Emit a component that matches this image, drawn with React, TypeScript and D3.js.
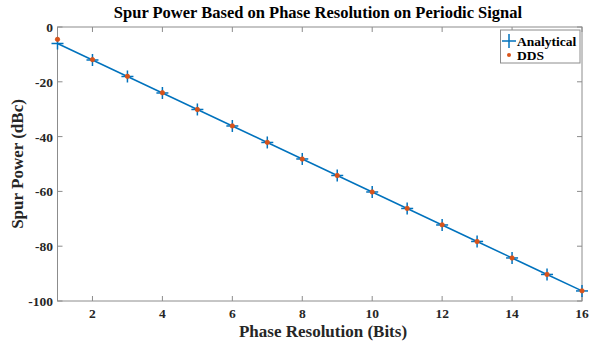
import React from "react";
import * as d3 from "d3";

const bits = [1, 2, 3, 4, 5, 6, 7, 8, 9, 10, 11, 12, 13, 14, 15, 16];
const analytical = [-6.02, -12.04, -18.06, -24.08, -30.1, -36.12, -42.14, -48.16, -54.19, -60.21, -66.23, -72.25, -78.27, -84.29, -90.31, -96.33];
const dds = [-4.5, -11.9, -18.0, -24.0, -30.1, -36.1, -42.1, -48.2, -54.2, -60.2, -66.2, -72.2, -78.3, -84.3, -90.3, -96.3];
const xTicks = [2, 4, 6, 8, 10, 12, 14, 16];
const yTicks = [0, -20, -40, -60, -80, -100];

const W = 589, H = 345;
const L = 57.5, R = 582, T = 27, B = 301;
const BLUE = "#0072BD", ORANGE = "#D95319";
const FONT = "Liberation Serif, Times New Roman, serif";

export default function App() {
  const x = d3.scaleLinear().domain([1, 16]).range([L, R]);
  const y = d3.scaleLinear().domain([-100, 0]).range([B, T]);
  const line = d3.line<number>().x((_, i) => x(bits[i])).y((d) => y(d));
  return (
    <svg width={W} height={H} style={{ position: "absolute", left: 0, top: 0 }}>
      <rect x={0} y={0} width={W} height={H} fill="#fff" />
      <rect x={L} y={T} width={R - L} height={B - T} fill="#fff" stroke="#8c8c8c" strokeWidth={1} />
      {xTicks.map((t) => (
        <g key={"x" + t}>
          <line x1={x(t)} x2={x(t)} y1={B} y2={B - 5} stroke="#8c8c8c" />
          <line x1={x(t)} x2={x(t)} y1={T} y2={T + 5} stroke="#8c8c8c" />
          <text x={x(t)} y={318} textAnchor="middle" fontFamily={FONT} fontWeight="bold" fontSize={13.5} fill="#262626">{t}</text>
        </g>
      ))}
      {yTicks.map((t) => (
        <g key={"y" + t}>
          <line x1={L} x2={L + 5} y1={y(t)} y2={y(t)} stroke="#8c8c8c" />
          <line x1={R} x2={R - 5} y1={y(t)} y2={y(t)} stroke="#8c8c8c" />
          <text x={53} y={y(t) + 5} textAnchor="end" fontFamily={FONT} fontWeight="bold" fontSize={13.5} fill="#262626">{t}</text>
        </g>
      ))}
      <path d={line(analytical) || ""} fill="none" stroke={BLUE} strokeWidth={1.5} />
      {analytical.map((v, i) => (
        <g key={"a" + i} stroke={BLUE} strokeWidth={1.5}>
          <line x1={x(bits[i]) - 6} x2={x(bits[i]) + 6} y1={y(v)} y2={y(v)} />
          <line x1={x(bits[i])} x2={x(bits[i])} y1={y(v) - 6} y2={y(v) + 6} />
        </g>
      ))}
      {dds.map((v, i) => (
        <circle key={"d" + i} cx={x(bits[i])} cy={y(v)} r={2.2} fill={ORANGE} stroke={ORANGE} strokeWidth={0.8} />
      ))}
      <text x={318} y={18} textAnchor="middle" fontFamily={FONT} fontWeight="bold" fontSize={16.5} fill="#000">Spur Power Based on Phase Resolution on Periodic Signal</text>
      <text x={323} y={336.5} textAnchor="middle" fontFamily={FONT} fontWeight="bold" fontSize={17} fill="#262626">Phase Resolution (Bits)</text>
      <text transform={`translate(23,${(T + B) / 2}) rotate(-90)`} textAnchor="middle" fontFamily={FONT} fontWeight="bold" fontSize={17} fill="#262626">Spur Power (dBc)</text>
      <g>
        <rect x={500.5} y={30} width={79.5} height={33} fill="#fff" stroke="#8c8c8c" strokeWidth={1} />
        <line x1={502} x2={516} y1={41} y2={41} stroke={BLUE} strokeWidth={1.5} />
        <line x1={509} x2={509} y1={34} y2={48} stroke={BLUE} strokeWidth={1.5} />
        <text x={517} y={45.5} fontFamily={FONT} fontWeight="bold" fontSize={13.5} fill="#000">Analytical</text>
        <circle cx={509} cy={55} r={2} fill={ORANGE} />
        <text x={517} y={59.5} fontFamily={FONT} fontWeight="bold" fontSize={13.5} fill="#000">DDS</text>
      </g>
    </svg>
  );
}
